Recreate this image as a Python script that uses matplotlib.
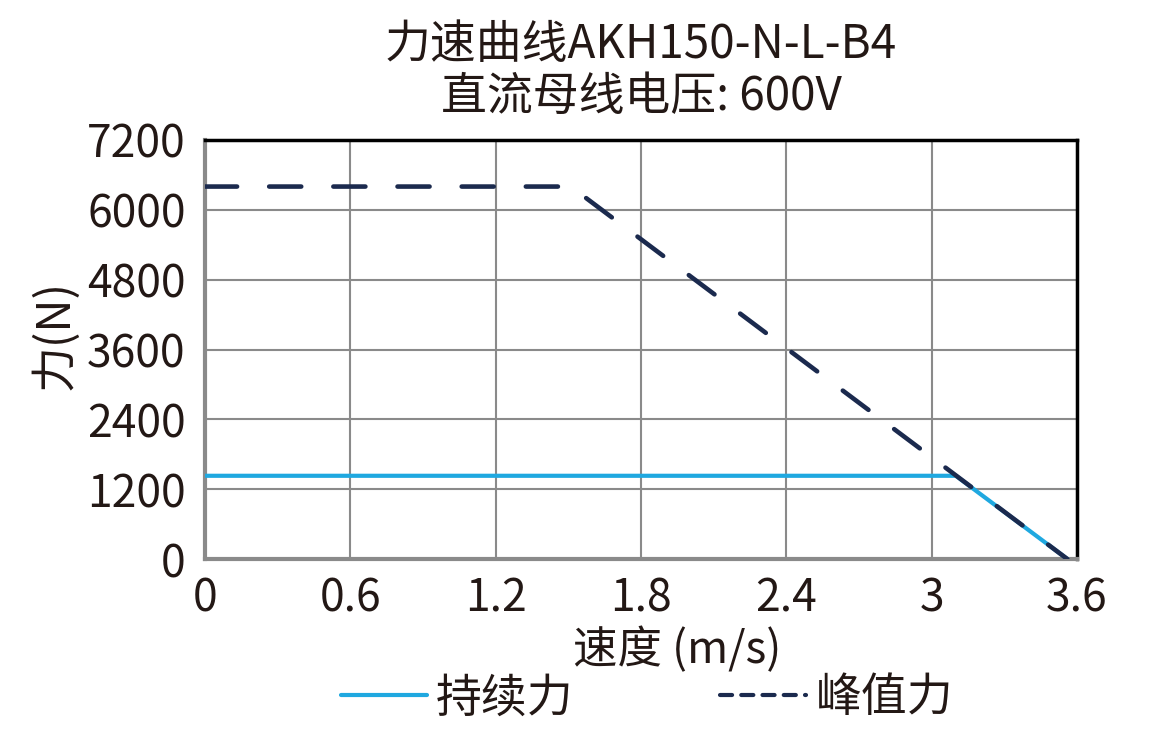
import matplotlib
matplotlib.use("Agg")
import matplotlib.pyplot as plt
from matplotlib.lines import Line2D

plt.rcParams['font.family'] = ['Noto Sans CJK SC', 'DejaVu Sans']

# data
cont_speed = [0, 3.1, 3.56]
cont_force = [1430, 1430, 0]
peak_speed = [0, 1.51, 3.56]
peak_force = [6400, 6400, 0]
xticks = [0, 0.6, 1.2, 1.8, 2.4, 3, 3.6]
xticklabels = ['0', '0.6', '1.2', '1.8', '2.4', '3', '3.6']
yticks = [0, 1200, 2400, 3600, 4800, 6000, 7200]
title_lines = ['力速曲线AKH150-N-L-B4', '直流母线电压: 600V']
xlabel = '速度 (m/s)'
ylabel = '力(N)'
labels = ['持续力', '峰值力']

c_cont = '#1FA8E0'
c_peak = '#1B2A4E'
tc = '#231815'

fig = plt.figure(figsize=(11.51, 7.43), dpi=100)
ax = fig.add_axes([205/1151, 1-559/743, (1077-205)/1151, (559-140)/743])

ax.plot(cont_speed, cont_force, color=c_cont, lw=3, solid_capstyle='round', zorder=3)
ax.plot(peak_speed, peak_force, color=c_peak, lw=3.3, dashes=(7, 7),
        dash_capstyle='round', zorder=4)

ax.set_xlim(0, 3.6)
ax.set_ylim(0, 7200)
ax.set_xticks(xticks)
ax.set_xticklabels(xticklabels)
ax.set_yticks(yticks)
ax.grid(True, color='#8a8a8a', lw=1.5)
ax.set_axisbelow(True)
ax.tick_params(axis='both', length=0, labelsize=32, colors=tc)
ax.tick_params(axis='x', pad=12)
ax.tick_params(axis='y', pad=14)

for s in ['top', 'right']:
    ax.spines[s].set_color('black')
    ax.spines[s].set_linewidth(2.5)
for s in ['left', 'bottom']:
    ax.spines[s].set_color('#8a8a8a')
    ax.spines[s].set_linewidth(3)

fig.text(641/1151, 1-45/743, title_lines[0], ha='center', va='center', fontsize=33, color=tc)
fig.text(641/1151, 1-97/743, title_lines[1], ha='center', va='center', fontsize=33, color=tc)
fig.text(677/1151, 1-650/743, xlabel, ha='center', va='center', fontsize=32, color=tc)
fig.text(55/1151, 1-335/743, ylabel, ha='center', va='center', fontsize=33,
         rotation=90, color=tc)

handles = [Line2D([], [], color=c_cont, lw=3, solid_capstyle='round'),
           Line2D([], [], color=c_peak, lw=3, dashes=(2.9, 2.2), dash_capstyle='round')]
leg = fig.legend(handles, labels, loc='center', bbox_to_anchor=(647/1151, 1-698/743),
                 ncol=2, frameon=False, fontsize=33, handlelength=1.88,
                 handletextpad=0.2, columnspacing=3.2, labelcolor=tc)

fig.savefig('out.png', dpi=100)
